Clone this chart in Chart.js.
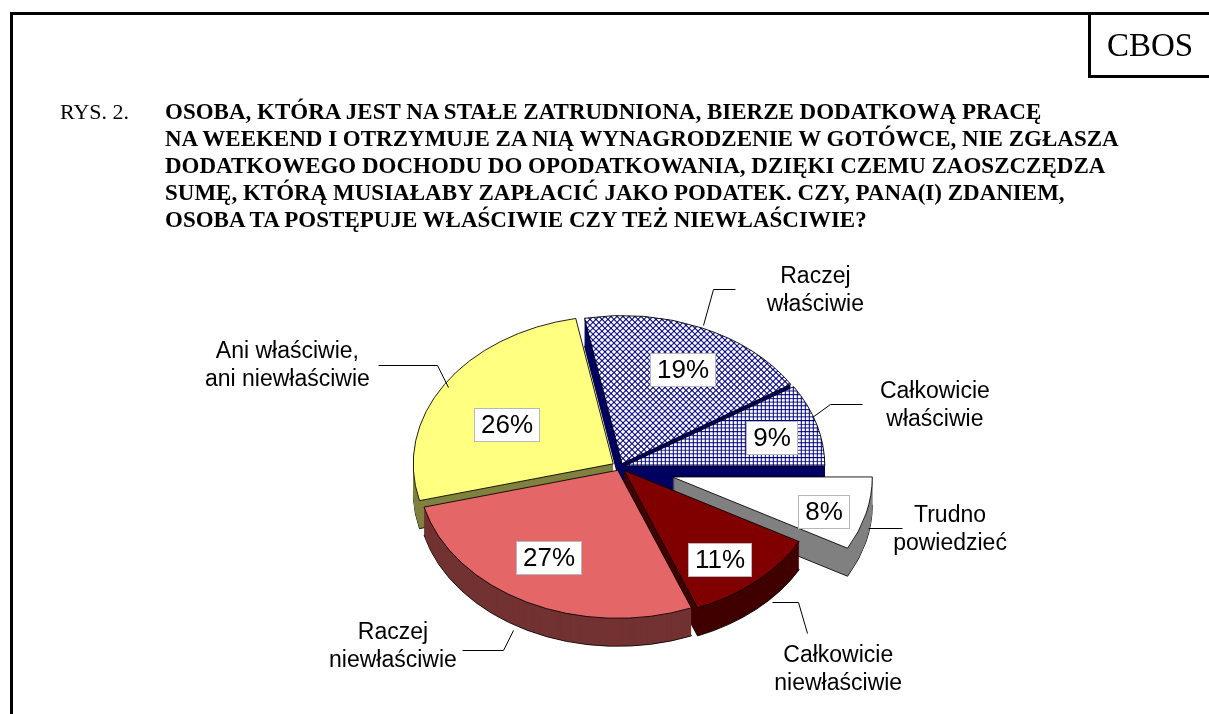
<!DOCTYPE html>
<html lang="pl">
<head>
  <meta charset="UTF-8" />
  <title>CBOS – Rys. 2</title>
  <script src="https://cdn.jsdelivr.net/npm/chart.js"></script>
  <style>
    body {
      margin: 0;
      width: 1209px;
      height: 714px;
      overflow: hidden;
      position: relative;
      background: #fff;
      font-family: 'Liberation Serif', 'Times New Roman', serif;
      color: #000;
    }

    .ramka {
      position: absolute;
      left: 10px;
      top: 12px;
      right: -10px;
      bottom: -10px;
      border-left: 3px solid #000;
      border-top: 3px solid #000;
    }

    .cbos {
      position: absolute;
      left: 1088px;
      top: 12px;
      width: 140px;
      height: 63px;
      border-left: 3px solid #000;
      border-bottom: 3px solid #000;
    }

    .cbos span {
      position: absolute;
      left: 16px;
      top: 17px;
      font-size: 33px;
      line-height: 33px;
    }

    .rys {
      position: absolute;
      left: 60px;
      top: 98px;
      font-size: 22px;
      line-height: 27px;
    }

    .tytul {
      position: absolute;
      left: 165px;
      top: 98px;
      font-size: 23px;
      line-height: 27px;
      font-weight: bold;
      white-space: nowrap;
    }

    canvas {
      position: absolute;
      left: 0;
      top: 0;
    }
  </style>
</head>
<body>
  <canvas id="wykres" width="1209" height="714"></canvas>
  <div class="ramka"></div>
  <div class="cbos"><span>CBOS</span></div>
  <div class="rys">RYS. 2.</div>
  <div class="tytul">
    OSOBA, KTÓRA JEST NA STAŁE ZATRUDNIONA, BIERZE DODATKOWĄ PRACĘ<br>
    NA WEEKEND I OTRZYMUJE ZA NIĄ WYNAGRODZENIE W GOTÓWCE, NIE ZGŁASZA<br>
    DODATKOWEGO DOCHODU DO OPODATKOWANIA, DZIĘKI CZEMU ZAOSZCZĘDZA<br>
    SUMĘ, KTÓRĄ MUSIAŁABY ZAPŁACIĆ JAKO PODATEK. CZY, PANA(I) ZDANIEM,<br>
    OSOBA TA POSTĘPUJE WŁAŚCIWIE CZY TEŻ NIEWŁAŚCIWIE?
  </div>

  <script>
    // dane (kolejność zgodna z ruchem wskazówek zegara, od godz. 3)
    const kategorie = [
      "Trudno powiedzieć",
      "Całkowicie niewłaściwie",
      "Raczej niewłaściwie",
      "Ani właściwie, ani niewłaściwie",
      "Raczej właściwie",
      "Całkowicie właściwie"
    ];
    const etykiety = [
      ["Trudno", "powiedzieć"],
      ["Całkowicie", "niewłaściwie"],
      ["Raczej", "niewłaściwie"],
      ["Ani właściwie,", "ani niewłaściwie"],
      ["Raczej", "właściwie"],
      ["Całkowicie", "właściwie"]
    ];
    const procenty = [8, 11, 27, 26, 19, 9];

    // wygląd
    const R = 200;          // promień
    const SPLASZCZ = 0.74;  // pochylenie tortu
    const GLEB = 28;        // grubość tortu
    const wysuniecie = [54, 6, 5, 8, 5, 5];
    const boki = ["#808080", "#400000", "#733232", "#808040", "#000060", "#000060"];
    // korekta położenia ramek z procentami
    const korekta = [[12, 9], [1, 10], [-3, -7], [15, 18], [4, 4], [9, 2]];
    // odnośniki: punkty linii i środek podpisu względem krawędzi wycinka
    const odnosniki = [
      { linia: [[2, 14], [36, 14]], tekst: [84, 16] },
      { linia: [[16, 21], [42, 21], [51, 52]], tekst: [82, 88] },
      { linia: [[-14, 28], [-24, 48], [-65, 48]], tekst: [-134, 44] },
      { linia: [[4, 2], [-7, -20], [-66, -20]], tekst: [-157, -19] },
      { linia: [[2, -3], [12, -39], [34, -39]], tekst: [114, -37] },
      { linia: [[-5, -8], [13, -21], [45, -21]], tekst: [118, -19] }
    ];

    function wzor(rysuj, w, h) {
      const c = document.createElement("canvas");
      c.width = w;
      c.height = h;
      const g = c.getContext("2d");
      g.fillStyle = "#fff";
      g.fillRect(0, 0, w, h);
      rysuj(g);
      return g.createPattern(c, "repeat");
    }

    const romby = wzor(g => {
      g.strokeStyle = "#000080";
      g.lineWidth = 1.2;
      g.beginPath();
      g.moveTo(0, 0); g.lineTo(6, 8);
      g.moveTo(6, 0); g.lineTo(0, 8);
      g.stroke();
    }, 6, 8);

    const kratka = wzor(g => {
      g.fillStyle = "#000080";
      g.fillRect(0, 0, 4, 1.3);
      g.fillRect(0, 0, 1, 5);
    }, 4, 5);

    const kolory = ["#FFFFFF", "#800000", "#E46666", "#FFFF80", romby, kratka];

    function srodek(a) {
      return (a.startAngle + a.endAngle) / 2;
    }

    function ustaw(ctx, a, i, dy) {
      const m = srodek(a);
      ctx.translate(a.x, a.y + dy);
      ctx.scale(1, SPLASZCZ);
      ctx.translate(-a.x + Math.cos(m) * wysuniecie[i], -a.y + Math.sin(m) * wysuniecie[i]);
    }

    const tort3d = {
      id: "tort3d",
      beforeDatasetsDraw(chart) {
        const ctx = chart.ctx;
        const luki = chart.getDatasetMeta(0).data;
        const kolejnosc = luki.map((a, i) => i)
          .sort((p, q) => Math.sin(srodek(luki[p])) - Math.sin(srodek(luki[q])));

        // boki
        kolejnosc.forEach(i => {
          const a = luki[i];
          const opcje = a.options;
          for (let d = GLEB; d >= 1; d--) {
            const o = Object.create(opcje);
            o.backgroundColor = boki[i];
            o.borderColor = d === GLEB ? "#000" : boki[i];
            o.borderWidth = d === GLEB ? 1 : 0;
            a.options = o;
            ctx.save();
            ustaw(ctx, a, i, d);
            a.draw(ctx);
            ctx.restore();
          }
          a.options = opcje;
        });

        // wierzch
        luki.forEach((a, i) => {
          ctx.save();
          ustaw(ctx, a, i, 0);
          a.draw(ctx);
          ctx.restore();
        });
        return false;
      },
      afterDraw(chart) {
        const ctx = chart.ctx;
        const luki = chart.getDatasetMeta(0).data;
        luki.forEach((a, i) => {
          const m = srodek(a), c = Math.cos(m), s = Math.sin(m);

          // procent w ramce
          const rr = wysuniecie[i] + a.outerRadius * 0.72;
          const px = a.x + c * rr + korekta[i][0], py = a.y + s * rr * SPLASZCZ + korekta[i][1];
          const tekst = procenty[i] + "%";
          ctx.font = '26px "Liberation Sans", Arial, sans-serif';
          const w = Math.round(ctx.measureText(tekst).width + 14), h = 34;
          const bx = Math.round(px - w / 2), by = Math.round(py - h / 2);
          ctx.fillStyle = "#fff";
          ctx.fillRect(bx, by, w, h);
          ctx.strokeStyle = "#b8b8b8";
          ctx.lineWidth = 1;
          ctx.strokeRect(bx + 0.5, by + 0.5, w - 1, h - 1);
          ctx.fillStyle = "#000";
          ctx.textAlign = "center";
          ctx.textBaseline = "middle";
          ctx.fillText(tekst, bx + w / 2, by + h / 2 + 1);

          // odnośnik
          const re = wysuniecie[i] + a.outerRadius;
          const ax = a.x + c * re, ay = a.y + s * re * SPLASZCZ;
          const od = odnosniki[i];
          ctx.beginPath();
          od.linia.forEach((p, j) => {
            const x = Math.round(ax + p[0]) + 0.5, y = Math.round(ay + p[1]) + 0.5;
            if (j === 0) ctx.moveTo(x, y); else ctx.lineTo(x, y);
          });
          ctx.strokeStyle = "#000";
          ctx.stroke();

          ctx.font = '23px "Liberation Sans", Arial, sans-serif';
          const tx = ax + od.tekst[0], ty = ay + od.tekst[1];
          ctx.fillText(etykiety[i][0], tx, ty - 14);
          ctx.fillText(etykiety[i][1], tx, ty + 14);
        });
      }
    };

    new Chart(document.getElementById("wykres"), {
      type: "pie",
      data: {
        labels: kategorie,
        datasets: [{
          data: procenty,
          backgroundColor: kolory,
          borderColor: "#000",
          borderWidth: 1
        }]
      },
      options: {
        responsive: false,
        animation: false,
        events: [],
        rotation: 90,
        radius: R,
        layout: { padding: { left: 31, top: 220, right: 0, bottom: 0 } },
        plugins: {
          legend: { display: false },
          tooltip: { enabled: false }
        }
      },
      plugins: [tort3d]
    });
  </script>
</body>
</html>
